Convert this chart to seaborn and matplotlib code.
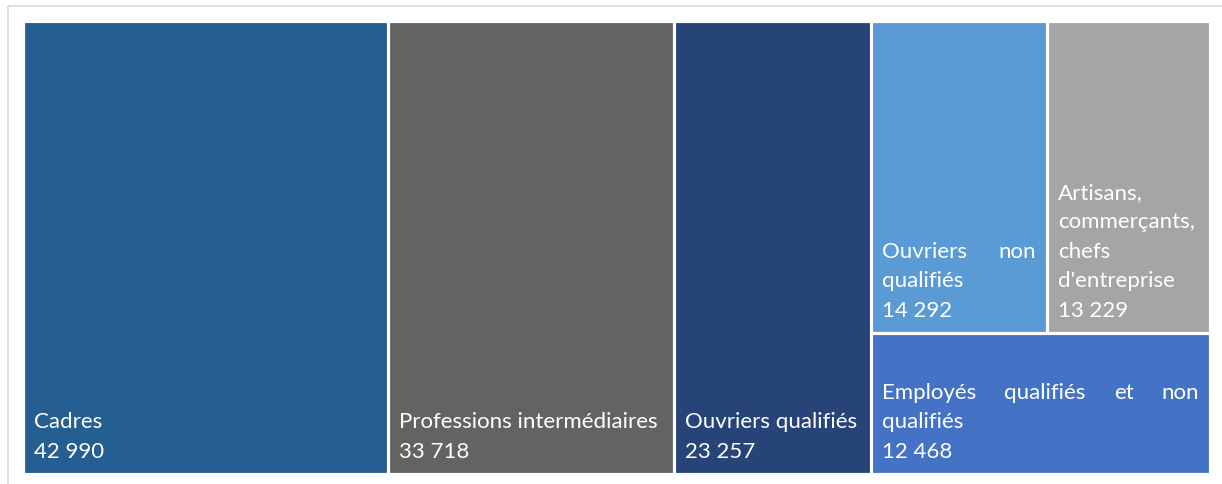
import matplotlib
matplotlib.use("Agg")
import matplotlib.pyplot as plt
import seaborn as sns

sns.set_theme(style="white")
plt.rcParams['font.family'] = ['Lato', 'DejaVu Sans']

# ---- data ----
categories = ["Cadres", "Professions intermédiaires", "Ouvriers qualifiés",
              "Ouvriers non qualifiés", "Artisans, commerçants, chefs d'entreprise",
              "Employés qualifiés et non qualifiés"]
values = [42990, 33718, 23257, 14292, 13229, 12468]
value_labels = ["42 990", "33 718", "23 257", "14 292", "13 229", "12 468"]
# label lines as wrapped in the reference (True = justified line)
label_lines = [
    [("Cadres", False)],
    [("Professions intermédiaires", False)],
    [("Ouvriers qualifiés", False)],
    [("Ouvriers non", True), ("qualifiés", False)],
    [("Artisans,", False), ("commerçants,", False), ("chefs", False), ("d'entreprise", False)],
    [("Employés qualifiés et non", True), ("qualifiés", False)],
]
colors = ["#255E91", "#636363", "#264478", "#5B9BD5", "#A5A5A5", "#4472C4"]

W, H = 1222, 484
fig = plt.figure(figsize=(W / 100, H / 100), dpi=100)
ax = fig.add_axes([0, 0, 1, 1])
ax.set_xlim(0, W)
ax.set_ylim(H, 0)
ax.axis("off")

# chart frame (top & left light lines)
ax.plot([8, W], [6, 6], color="#D9D9D9", lw=1.2, solid_capstyle="butt")
ax.plot([8, 8], [6, H], color="#D9D9D9", lw=1.2, solid_capstyle="butt")

# ---- treemap layout (slice & dice following reference structure) ----
X0, X1, Y0, Y1 = 23.0, 1210.0, 21.0, 474.0
total = sum(values)
rects = []
x = X0
for v in values[:3]:
    w = (X1 - X0) * v / total
    rects.append((x, Y0, w, Y1 - Y0))
    x += w
rest_w = X1 - x
top_sum = values[3] + values[4]
top_h = (Y1 - Y0) * top_sum / sum(values[3:])
w3 = rest_w * values[3] / top_sum
rects.append((x, Y0, w3, top_h))
rects.append((x + w3, Y0, rest_w - w3, top_h))
rects.append((x, Y0 + top_h, rest_w, (Y1 - Y0) - top_h))

inset = 2.0
for (rx, ry, rw, rh), c in zip(rects, colors):
    ax.bar(rx + inset, rh - 2 * inset, width=rw - 2 * inset, bottom=ry + inset,
           align="edge", color=c, edgecolor=c, linewidth=0.6)

# ---- labels ----
fs = 16
pad_x = 9
pad_b = 14
line_h = 29.5
fig.canvas.draw()
renderer = fig.canvas.get_renderer()

def text_width(s):
    t = ax.text(0, 0, s, fontsize=fs)
    bb = t.get_window_extent(renderer=renderer)
    t.remove()
    return bb.width

for (rx, ry, rw, rh), lines, val in zip(rects, label_lines, value_labels):
    left = rx + inset + pad_x
    right = rx + rw - inset - pad_x
    all_lines = lines + [(val, False)]
    n = len(all_lines)
    base = ry + rh - inset - pad_b
    for i, (s, just) in enumerate(all_lines):
        y = base - (n - 1 - i) * line_h
        if just:
            words = s.split(" ")
            widths = [text_width(w_) for w_ in words]
            gap = (right - left - sum(widths)) / (len(words) - 1)
            xx = left
            for w_, ww in zip(words, widths):
                ax.text(xx, y, w_, fontsize=fs, color="white", va="baseline", ha="left")
                xx += ww + gap
        else:
            ax.text(left, y, s, fontsize=fs, color="white", va="baseline", ha="left")

fig.savefig("out.png", dpi=100)
